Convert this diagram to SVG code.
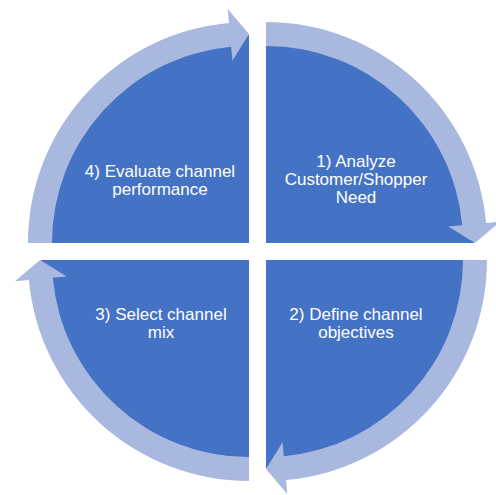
<svg xmlns="http://www.w3.org/2000/svg" width="496" height="495" viewBox="0 0 496 495">
  <style>
    .q { fill: #4472C4; }
    .arc { fill: #A9B8DE; }
    .t { font-family: "Liberation Sans", Arial, sans-serif; font-size: 17px; fill: #FFFFFF; text-anchor: middle; }
  </style>
  <rect width="496" height="495" fill="#FFFFFF"/>
  <g id="node-4">
    <path class="q" d="M249,243 L41,243 A208,208 0 0 1 249,35 Z"/>
    <text class="t" x="160" y="176.5">4) Evaluate channel</text>
    <text class="t" x="160" y="194.5">performance</text>
  </g>
  <g id="node-1">
    <path class="q" d="M266,243 L266,35 A208,208 0 0 1 474,243 Z"/>
    <text class="t" x="356" y="167">1) Analyze</text>
    <text class="t" x="356" y="185">Customer/Shopper</text>
    <text class="t" x="356" y="203">Need</text>
  </g>
  <g id="node-2">
    <path class="q" d="M266,260 L474,260 A208,208 0 0 1 266,468 Z"/>
    <text class="t" x="356" y="320">2) Define channel</text>
    <text class="t" x="356" y="338">objectives</text>
  </g>
  <g id="node-3">
    <path class="q" d="M249,260 L249,468 A208,208 0 0 1 41,260 Z"/>
    <text class="t" x="161" y="320">3) Select channel</text>
    <text class="t" x="161" y="338">mix</text>
  </g>
  <g id="connectors">
    <path class="arc" d="M28,243 A221,221 0 0 1 228.97,22.91 L227.70,8.97 L249,34 L232.41,60.75 L231.15,46.81 A197,197 0 0 0 52,243 Z"/>
    <path class="arc" d="M266,22 A221,221 0 0 1 486.09,222.97 L500.03,221.70 L475,243 L448.25,226.41 L462.19,225.15 A197,197 0 0 0 266,46 Z"/>
    <path class="arc" d="M487,260 A221,221 0 0 1 286.03,480.09 L287.30,494.03 L266,469 L282.59,442.25 L283.85,456.19 A197,197 0 0 0 463,260 Z"/>
    <path class="arc" d="M249,481 A221,221 0 0 1 28.91,280.03 L14.97,281.30 L40,260 L66.75,276.59 L52.81,277.85 A197,197 0 0 0 249,457 Z"/>
  </g>
</svg>
